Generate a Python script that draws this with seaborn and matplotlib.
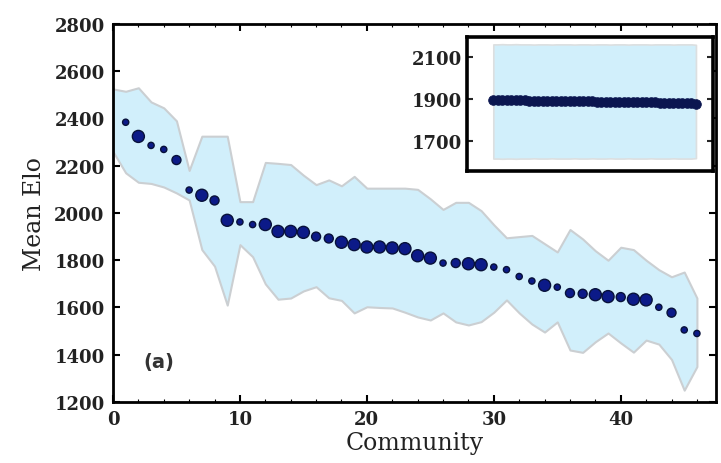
import numpy as np
import pandas as pd
import matplotlib.pyplot as plt
import seaborn as sns

# community index and mean Elo of each community
community = list(range(1, 47))
mean_elo = [2384, 2324, 2286, 2269, 2224, 2097, 2075, 2053, 1969, 1962,
            1951, 1951, 1922, 1922, 1918, 1900, 1892, 1876, 1866, 1856,
            1856, 1852, 1849, 1819, 1809, 1788, 1788, 1785, 1781, 1771,
            1760, 1731, 1712, 1694, 1686, 1661, 1658, 1654, 1646, 1644,
            1635, 1632, 1601, 1578, 1505, 1490]
# marker size class (1 small, 2 medium, 3 large)
size_class = [1, 3, 1, 1, 2, 1, 3, 2, 3, 1,
              1, 3, 3, 3, 3, 2, 2, 3, 3, 3,
              3, 3, 3, 3, 3, 1, 2, 3, 3, 1,
              1, 1, 1, 3, 1, 2, 2, 3, 3, 2,
              3, 3, 1, 2, 1, 1]

# spread band (min / max Elo)
band_x = list(range(0, 47))
band_upper = [2525, 2515, 2530, 2470, 2445, 2390, 2180, 2325, 2325, 2325,
              2048, 2048, 2214, 2210, 2205, 2160, 2120, 2140, 2115, 2155,
              2105, 2105, 2105, 2105, 2100, 2060, 2015, 2045, 2045, 2010,
              1950, 1895, 1900, 1905, 1870, 1835, 1930, 1890, 1840, 1800,
              1855, 1845, 1800, 1760, 1730, 1750, 1640]
band_lower = [2260, 2170, 2130, 2125, 2110, 2085, 2055, 1845, 1775, 1610,
              1866, 1815, 1700, 1635, 1640, 1670, 1688, 1641, 1630, 1577,
              1603, 1600, 1598, 1580, 1560, 1547, 1577, 1539, 1526, 1540,
              1580, 1632, 1577, 1530, 1496, 1539, 1420, 1410, 1455, 1492,
              1450, 1411, 1462, 1445, 1380, 1250, 1350]

# inset: randomised communities
inset_x = list(range(1, 47))
inset_mean = [1895, 1895, 1894, 1894, 1894, 1893, 1893, 1893, 1892, 1892,
              1892, 1891, 1891, 1891, 1890, 1890, 1890, 1889, 1889, 1889,
              1888, 1888, 1888, 1887, 1887, 1887, 1886, 1886, 1886, 1885,
              1885, 1885, 1884, 1884, 1884, 1883, 1883, 1882, 1882, 1881,
              1881, 1880, 1880, 1879, 1878, 1876]
inset_upper = [2160, 2160, 2161, 2160, 2160, 2161, 2160, 2160, 2160, 2159,
               2160, 2160, 2160, 2159, 2160, 2160, 2160, 2160, 2159, 2160,
               2160, 2160, 2159, 2160, 2160, 2160, 2159, 2160, 2160, 2160,
               2159, 2160, 2160, 2160, 2160, 2159, 2160, 2160, 2160, 2160,
               2159, 2160, 2160, 2160, 2160, 2158]
inset_lower = [1615, 1615, 1614, 1615, 1615, 1614, 1615, 1615, 1615, 1616,
               1615, 1615, 1615, 1616, 1615, 1615, 1615, 1615, 1616, 1615,
               1615, 1615, 1616, 1615, 1615, 1615, 1616, 1615, 1615, 1615,
               1616, 1615, 1615, 1615, 1615, 1616, 1615, 1615, 1615, 1615,
               1616, 1615, 1615, 1615, 1615, 1617]

df = pd.DataFrame({"Community": community, "Mean Elo": mean_elo, "size": size_class})
df_in = pd.DataFrame({"x": inset_x, "y": inset_mean})

sns.set_theme(style="ticks")
plt.rcParams["font.family"] = ["DejaVu Serif"]

band_color = "#d1effb"
band_edge = "#cbcfd2"
dot_face = "#0c1a88"
dot_edge = "#08113a"

fig = plt.figure(figsize=(7.21, 4.64), dpi=100)
ax = fig.add_axes([0.1567, 0.1315, 0.8363, 0.8147])

ax.fill_between(band_x, band_lower, band_upper, color=band_color,
                edgecolor=band_edge, linewidth=1.5, zorder=1)
sns.scatterplot(data=df, x="Community", y="Mean Elo", size="size",
                sizes={1: 20, 2: 42, 3: 75}, color=dot_face,
                edgecolor=dot_edge, linewidth=1.0, legend=False, ax=ax, zorder=3)

ax.set_xlim(0, 47.5)
ax.set_ylim(1200, 2800)
ax.set_xticks([0, 10, 20, 30, 40])
ax.set_yticks(range(1200, 2801, 200))
ax.set_xticks(range(0, 48, 2), minor=True)
ax.tick_params(which="both", direction="in", top=True, right=True, color="black")
ax.tick_params(which="major", length=5, width=1.5, pad=6, labelsize=13)
ax.tick_params(which="minor", length=2.5, width=0.8)
for lab in ax.get_xticklabels() + ax.get_yticklabels():
    lab.set_fontweight("bold")
    lab.set_color("#222222")
for sp in ax.spines.values():
    sp.set_linewidth(2)
    sp.set_color("black")
ax.set_xlabel("Community", fontsize=17, labelpad=2, color="#222222")
ax.set_ylabel("Mean Elo", fontsize=17, labelpad=6, color="#222222")
ax.text(3.6, 1373, "(a)", fontsize=14, fontweight="bold", family="DejaVu Sans",
        color="#333333", ha="center", va="center")

# inset
axin = fig.add_axes([0.648, 0.629, 0.341, 0.289])
axin.fill_between(inset_x, inset_lower, inset_upper, color=band_color,
                  edgecolor="#dcdfe0", linewidth=1.2, zorder=1)
sns.scatterplot(data=df_in, x="x", y="y", s=48, color="#0b1650",
                edgecolor="#0b1650", linewidth=0.6, legend=False, ax=axin, zorder=3)
axin.set_xlim(-4.8, 49.8)
axin.set_ylim(1555, 2195)
axin.set_xticks([])
axin.set_yticks([1700, 1900, 2100])
axin.set_xlabel("")
axin.set_ylabel("")
axin.tick_params(axis="y", direction="in", left=True, right=True, length=4,
                 width=1.5, pad=4, labelsize=13)
for lab in axin.get_yticklabels():
    lab.set_fontweight("bold")
    lab.set_color("#222222")
for sp in axin.spines.values():
    sp.set_linewidth(2.6)
    sp.set_color("black")

fig.savefig("out.png", dpi=100)
